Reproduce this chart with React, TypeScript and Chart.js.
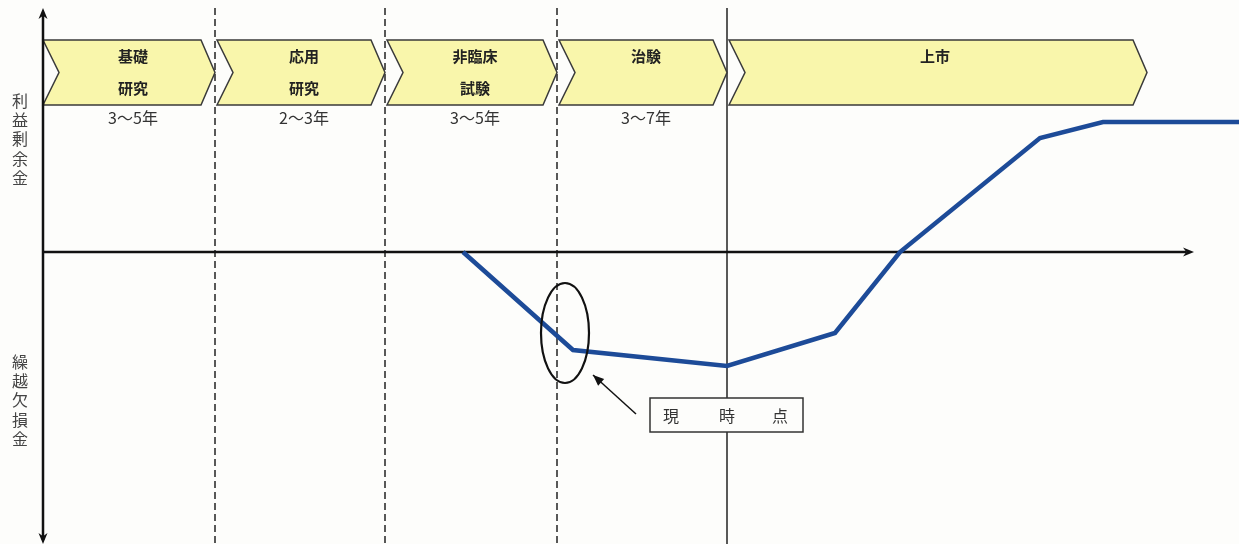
import React, { useEffect, useRef } from "react";
import { Chart, registerables } from "chart.js";

Chart.register(...registerables);

// ---- data (arbitrary units: x = time, y = retained earnings / accumulated deficit) ----
const curveX = [463, 573, 727, 835, 900, 1040, 1103, 1239];
const curveY = [0, -98, -114, -81, 0, 114, 130, 130];

const phaseNames = [["基礎", "研究"], ["応用", "研究"], ["非臨床", "試験"], ["治験"], ["上市"]];
const phaseStart = [43, 215, 385, 557, 727];
const phaseEnd = [215, 385, 557, 727, 1147];
const phaseYears = ["3〜5年", "2〜3年", "3〜5年", "3〜7年", ""];
const dashedBoundaries = [215, 385, 557];
const solidBoundary = 727;

const upperLabel = "利益剰余金";
const lowerLabel = "繰越欠損金";
const calloutText = ["現", "時", "点"];

const X_MIN = 0;
const X_MAX = 1239;
const Y_MAX = 252;
const Y_MIN = -292;

const FONT = '"Noto Sans CJK JP", "Noto Sans", sans-serif';

const diagramPlugin = {
  id: "diagram",
  beforeDatasetsDraw(chart: any) {
    const ctx = chart.ctx as CanvasRenderingContext2D;
    const xs = chart.scales.x;
    const ys = chart.scales.y;
    const px = (v: number) => xs.getPixelForValue(v);
    const py = (v: number) => ys.getPixelForValue(v);

    ctx.save();
    // background
    ctx.fillStyle = "#fdfdfb";
    ctx.fillRect(0, 0, chart.width, chart.height);

    // dashed phase boundaries
    ctx.strokeStyle = "#222";
    ctx.lineWidth = 1.5;
    ctx.setLineDash([7, 4]);
    for (const b of dashedBoundaries) {
      ctx.beginPath();
      ctx.moveTo(px(b), py(244));
      ctx.lineTo(px(b), py(Y_MIN));
      ctx.stroke();
    }
    ctx.setLineDash([]);
    // solid boundary
    ctx.lineWidth = 1.5;
    ctx.beginPath();
    ctx.moveTo(px(solidBoundary), py(244));
    ctx.lineTo(px(solidBoundary), py(Y_MIN));
    ctx.stroke();

    // banners
    const top = py(212);
    const bot = py(147);
    const mid = (top + bot) / 2;
    const notch = 16;
    const tip = 14;
    phaseStart.forEach((s, i) => {
      const x0 = px(s) + (i === 0 ? 0 : 2);
      const x1 = px(phaseEnd[i]);
      ctx.beginPath();
      ctx.moveTo(x0, top);
      ctx.lineTo(x1 - tip, top);
      ctx.lineTo(x1, mid);
      ctx.lineTo(x1 - tip, bot);
      ctx.lineTo(x0, bot);
      ctx.lineTo(x0 + notch, mid);
      ctx.closePath();
      ctx.fillStyle = "#f9f6ab";
      ctx.fill();
      ctx.strokeStyle = "#3a3a3a";
      ctx.lineWidth = 1.5;
      ctx.stroke();

      const cx = i === 4 ? 935 : (px(s) + x1) / 2 + 4;
      ctx.fillStyle = "#222";
      ctx.font = `bold 15px ${FONT}`;
      ctx.textAlign = "center";
      ctx.textBaseline = "middle";
      const lines = phaseNames[i];
      lines.forEach((t, j) => {
        ctx.fillText(t, cx, top + 16 + j * 32);
      });
      if (phaseYears[i]) {
        ctx.font = `16px ${FONT}`;
        ctx.fillStyle = "#333";
        ctx.fillText(phaseYears[i], cx, bot + 13);
      }
    });

    // axes
    ctx.strokeStyle = "#111";
    ctx.fillStyle = "#111";
    ctx.lineWidth = 2.5;
    const ax = px(43);
    const ay = py(0);
    ctx.beginPath();
    ctx.moveTo(ax, py(Y_MAX - 14));
    ctx.lineTo(ax, py(Y_MIN) - 4);
    ctx.stroke();
    ctx.beginPath();
    ctx.moveTo(ax, ay);
    ctx.lineTo(px(1186), ay);
    ctx.stroke();
    // arrowheads
    const head = (x: number, y: number, dx: number, dy: number) => {
      const L = 11, W = 4.5;
      const nx = -dy, ny = dx;
      ctx.beginPath();
      ctx.moveTo(x, y);
      ctx.lineTo(x - dx * L + nx * W, y - dy * L + ny * W);
      ctx.lineTo(x - dx * L * 0.7, y - dy * L * 0.7);
      ctx.lineTo(x - dx * L - nx * W, y - dy * L - ny * W);
      ctx.closePath();
      ctx.fill();
    };
    head(ax, py(Y_MAX - 8), 0, -1);
    head(ax, py(Y_MIN), 0, 1);
    head(px(1194), ay, 1, 0);

    // vertical axis labels
    ctx.font = `16px ${FONT}`;
    ctx.fillStyle = "#444";
    ctx.textAlign = "center";
    ctx.textBaseline = "middle";
    Array.from(upperLabel).forEach((c, i) => ctx.fillText(c, 20, 101 + i * 19.2));
    Array.from(lowerLabel).forEach((c, i) => ctx.fillText(c, 20, 362 + i * 19.2));
    ctx.restore();
  },
  afterDatasetsDraw(chart: any) {
    const ctx = chart.ctx as CanvasRenderingContext2D;
    const xs = chart.scales.x;
    const ys = chart.scales.y;
    const px = (v: number) => xs.getPixelForValue(v);
    const py = (v: number) => ys.getPixelForValue(v);
    ctx.save();
    // ellipse marking the present point
    ctx.strokeStyle = "#111";
    ctx.lineWidth = 2.2;
    ctx.beginPath();
    ctx.ellipse(px(565), py(-81), 24, 50, 0, 0, Math.PI * 2);
    ctx.stroke();

    // arrow to ellipse
    ctx.lineWidth = 1.5;
    const tx = px(593), ty = py(-123);
    const sx = px(636), sy = py(-162);
    ctx.beginPath();
    ctx.moveTo(sx, sy);
    ctx.lineTo(tx, ty);
    ctx.stroke();
    const ang = Math.atan2(ty - sy, tx - sx);
    ctx.fillStyle = "#111";
    ctx.beginPath();
    ctx.moveTo(tx, ty);
    ctx.lineTo(tx - 11 * Math.cos(ang) + 4.5 * Math.sin(ang), ty - 11 * Math.sin(ang) - 4.5 * Math.cos(ang));
    ctx.lineTo(tx - 11 * Math.cos(ang) - 4.5 * Math.sin(ang), ty - 11 * Math.sin(ang) + 4.5 * Math.cos(ang));
    ctx.closePath();
    ctx.fill();

    // callout box
    const bx0 = px(650), bx1 = px(803), by0 = py(-146), by1 = py(-180);
    ctx.fillStyle = "#fdfdfb";
    ctx.fillRect(bx0, by0, bx1 - bx0, by1 - by0);
    ctx.strokeStyle = "#333";
    ctx.lineWidth = 1.5;
    ctx.strokeRect(bx0, by0, bx1 - bx0, by1 - by0);
    ctx.fillStyle = "#333";
    ctx.font = `16px ${FONT}`;
    ctx.textAlign = "center";
    ctx.textBaseline = "middle";
    const cxs = [671, 727, 780];
    calloutText.forEach((t, i) => ctx.fillText(t, px(cxs[i]), (by0 + by1) / 2 + 1));
    ctx.restore();
  },
};

export default function App() {
  const ref = useRef<HTMLCanvasElement | null>(null);
  useEffect(() => {
    if (!ref.current) return;
    const chart = new Chart(ref.current, {
      type: "line",
      data: {
        datasets: [
          {
            data: curveX.map((x, i) => ({ x, y: curveY[i] })),
            borderColor: "#1d4b98",
            borderWidth: 4.5,
            pointRadius: 0,
            tension: 0,
            fill: false,
          },
        ],
      },
      options: {
        animation: false,
        responsive: false,
        maintainAspectRatio: false,
        layout: { padding: 0 },
        plugins: { legend: { display: false }, tooltip: { enabled: false } },
        scales: {
          x: { type: "linear", min: X_MIN, max: X_MAX, display: false },
          y: { type: "linear", min: Y_MIN, max: Y_MAX, display: false },
        },
      },
      plugins: [diagramPlugin],
    });
    return () => chart.destroy();
  }, []);
  return (
    <div style={{ position: "absolute", left: 0, top: 0, width: 1239, height: 544 }}>
      <canvas ref={ref} width={1239} height={544} style={{ display: "block" }} />
    </div>
  );
}
